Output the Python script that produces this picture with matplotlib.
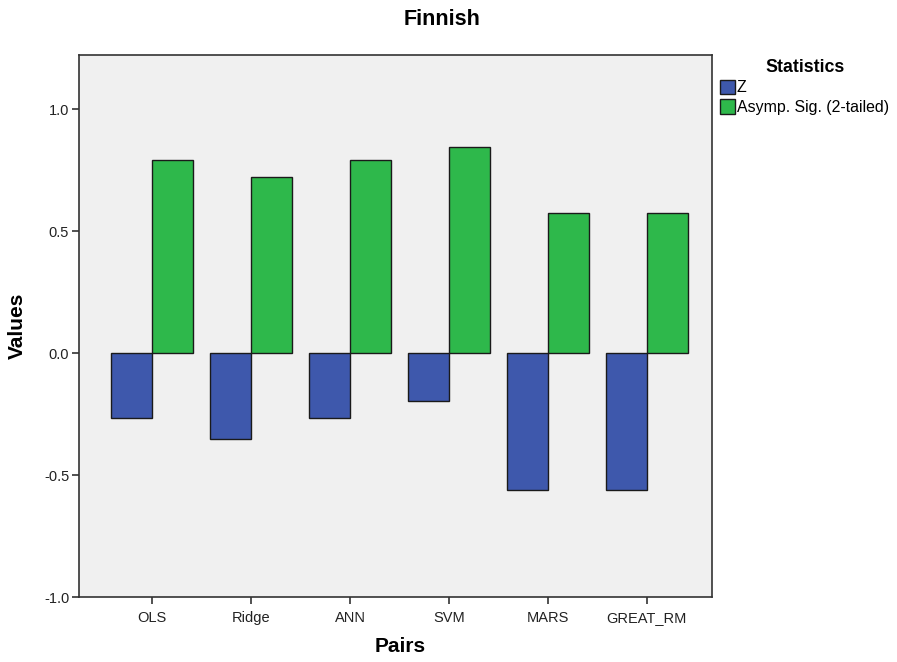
import numpy as np
import matplotlib.pyplot as plt
from matplotlib.patches import Patch

plt.rcParams['font.family'] = ['Liberation Sans', 'DejaVu Sans']

pairs = ['OLS', 'Ridge', 'ANN', 'SVM', 'MARS', 'GREAT_RM']
z_values = [-0.266, -0.354, -0.266, -0.198, -0.560, -0.560]
sig_values = [0.790, 0.723, 0.790, 0.844, 0.576, 0.576]
stat_names = ['Z', 'Asymp. Sig. (2-tailed)']
colors = ['#3E58AC', '#2EB84B']

fig = plt.figure(figsize=(8.97, 6.62), dpi=100)
ax = fig.add_axes([0.088, 0.098, 0.706, 0.819])
ax.set_facecolor('#F0F0F0')

x = np.arange(len(pairs))
w = 0.414
ax.bar(x - w / 2, z_values, w, color=colors[0], edgecolor='#1a1a1a', linewidth=1)
ax.bar(x + w / 2, sig_values, w, color=colors[1], edgecolor='#1a1a1a', linewidth=1)

ax.set_xlim(-0.74, 5.66)
ax.set_ylim(-1.0, 1.222)
ax.set_xticks(x)
ax.set_xticklabels(pairs, fontsize=10.5, color='#222222')
ax.set_yticks([-1.0, -0.5, 0.0, 0.5, 1.0])
ax.set_yticklabels(['-1.0', '-0.5', '0.0', '0.5', '1.0'], fontsize=10.5, color='#222222')
ax.tick_params(axis='both', length=5, width=1.2, color='#333333')
ax.tick_params(axis='x', pad=5)
ax.tick_params(axis='y', pad=2)
for s in ax.spines.values():
    s.set_color('#333333')
    s.set_linewidth(1.2)

ax.set_xlabel('Pairs', fontsize=15, fontweight='bold')
ax.xaxis.set_label_coords(0.508, -0.074)
ax.set_ylabel('Values', fontsize=15, fontweight='bold')
ax.yaxis.set_label_coords(-0.083, 0.5)
fig.text(0.493, 0.971, 'Finnish', ha='center', va='center', fontsize=15.5, fontweight='bold')

handles = [Patch(facecolor=c, edgecolor='#1a1a1a', label=n) for c, n in zip(colors, stat_names)]
leg = fig.legend(handles=handles, loc='upper left', bbox_to_anchor=(0.803, 0.911),
                 title='Statistics', frameon=False, fontsize=11.4,
                 handlelength=0.9, handleheight=1.0, handletextpad=0.15,
                 labelspacing=0.25, borderaxespad=0, borderpad=0)
leg.get_title().set_fontweight('bold')
leg.get_title().set_fontsize(12.8)

fig.savefig('out.png', dpi=100)
